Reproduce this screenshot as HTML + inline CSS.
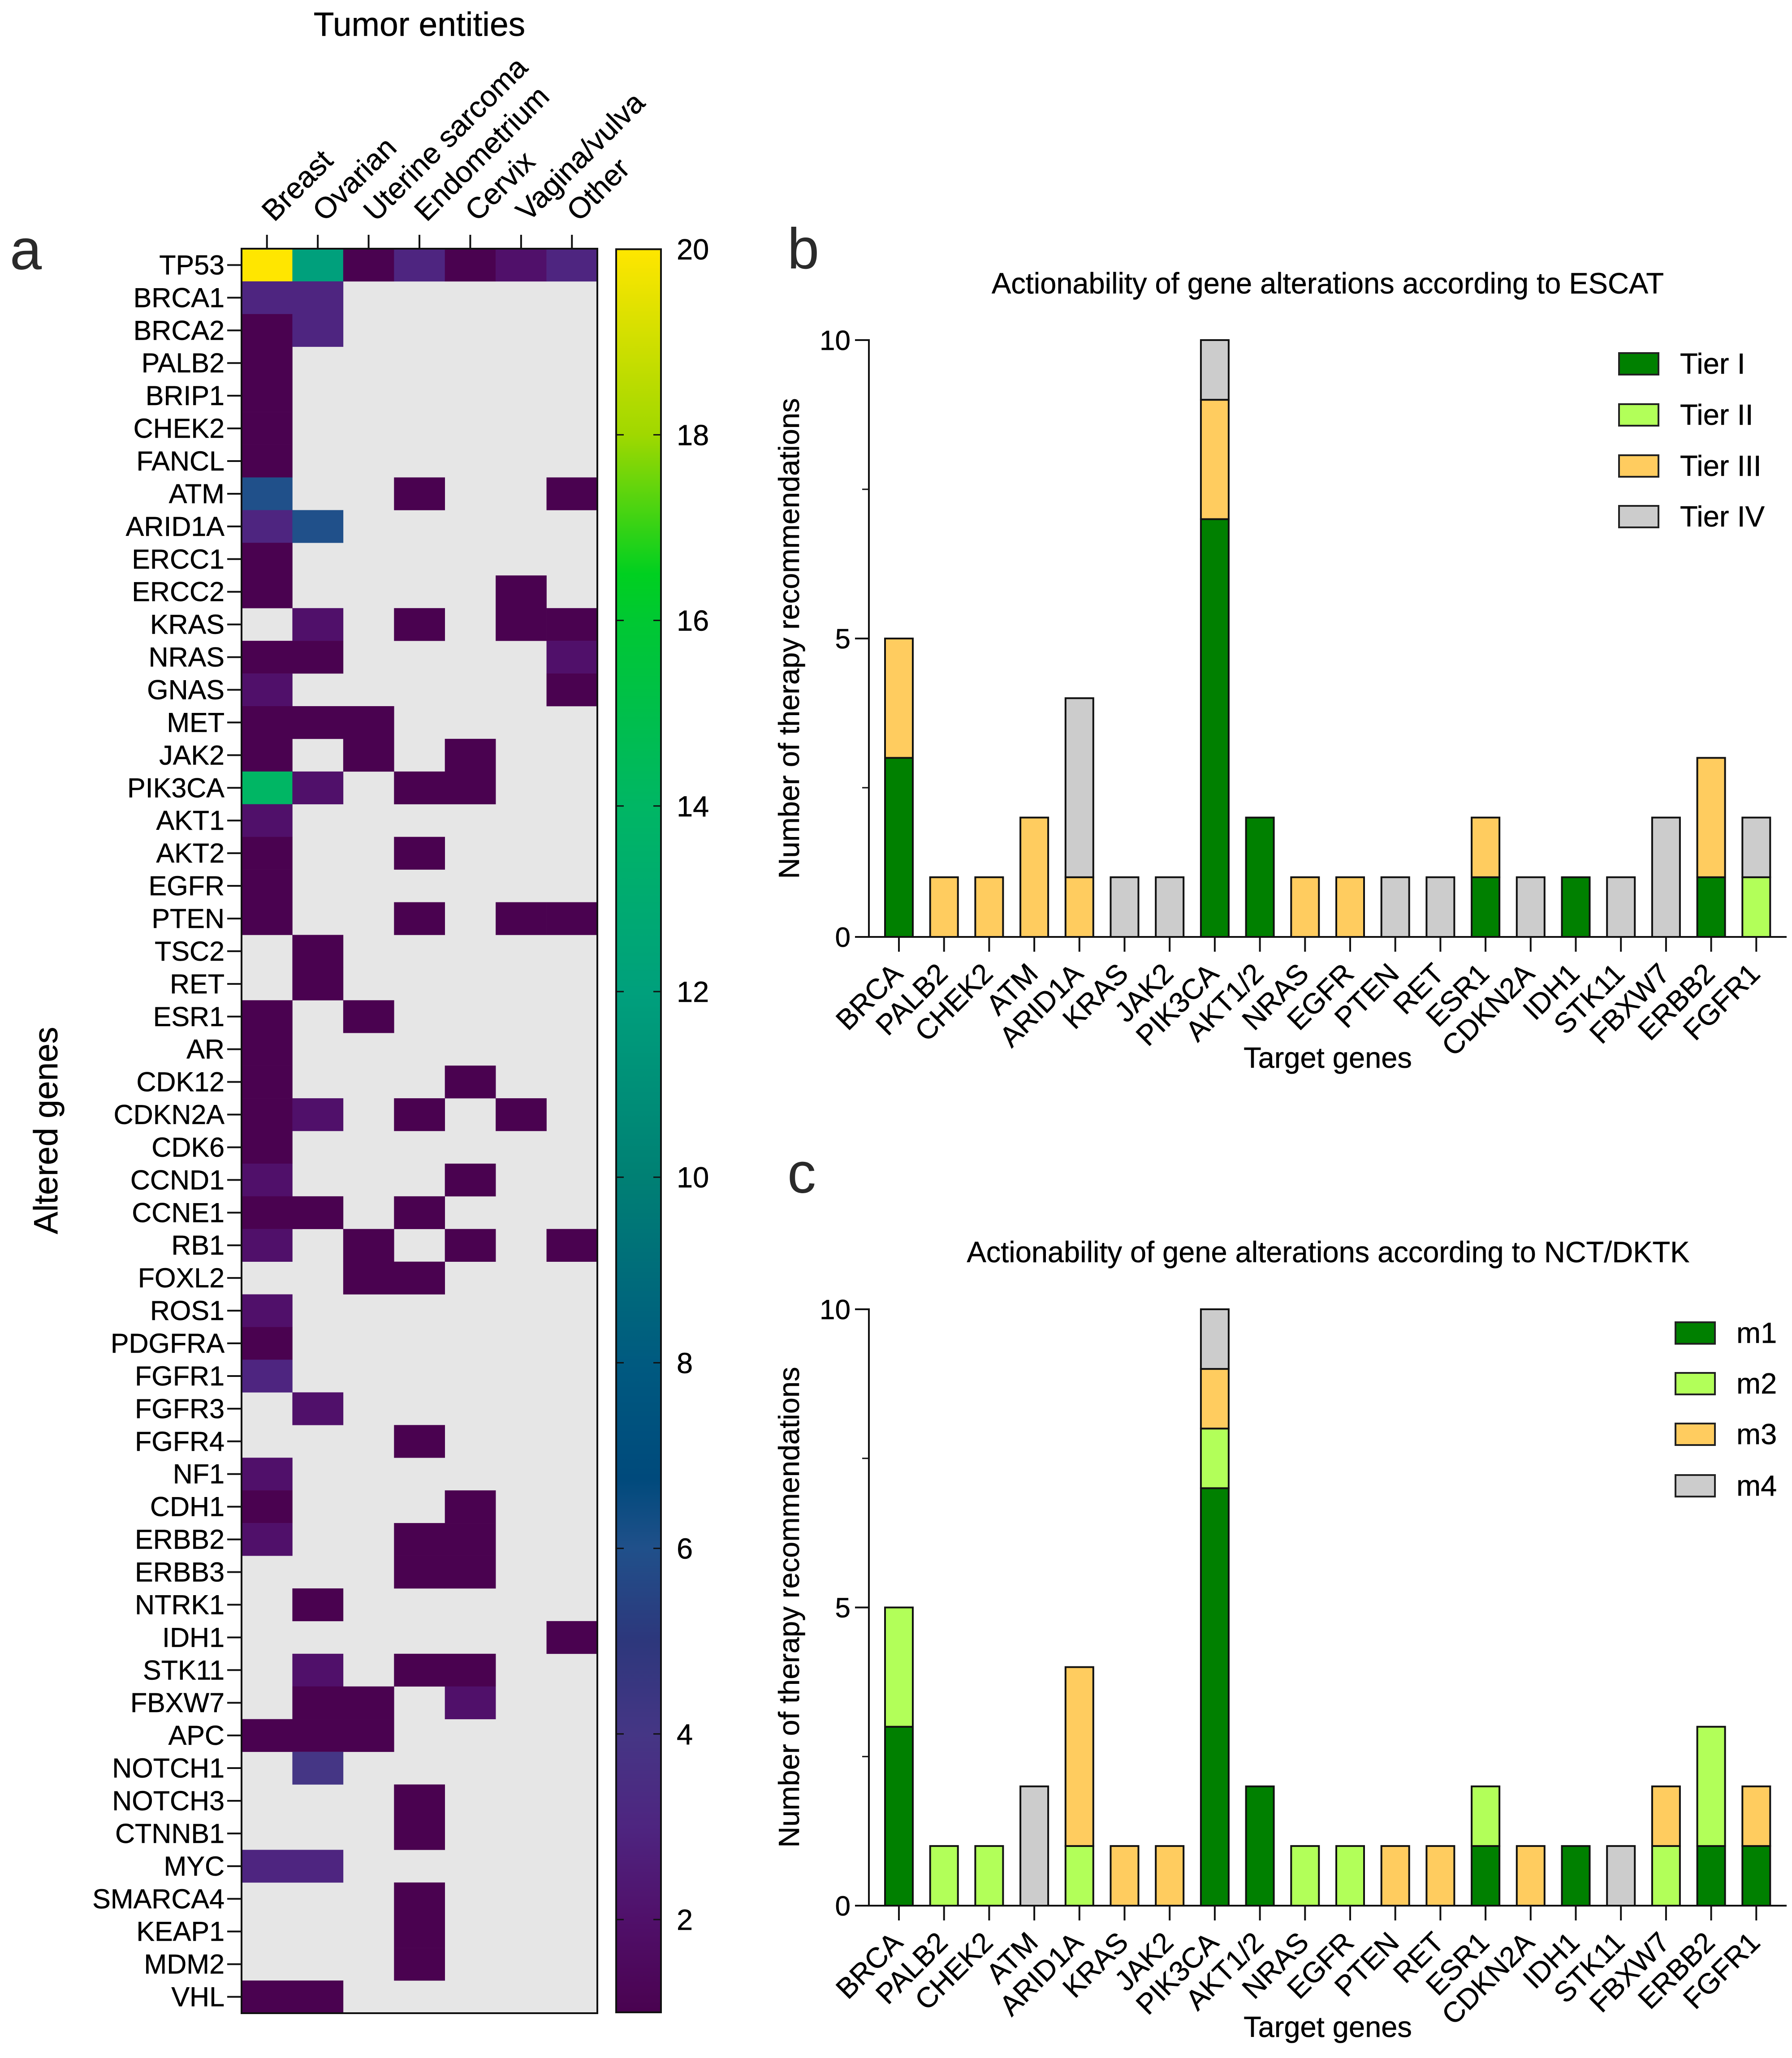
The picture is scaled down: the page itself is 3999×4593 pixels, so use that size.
<!DOCTYPE html>
<html lang="en">
<head>
<meta charset="utf-8">
<title>Actionability of gene alterations</title>
<style>
html,body{margin:0;padding:0;background:#fff;width:3999px;height:4593px;overflow:hidden}
svg{display:block}
text{font-family:"Liberation Sans",Arial,sans-serif;fill:#000;stroke:#000;stroke-width:0.5px}
</style>
</head>
<body>
<svg id="fig" xmlns="http://www.w3.org/2000/svg" width="3999" height="4593" viewBox="0 0 3999 4593">
  <defs><linearGradient id="cbarGrad" x1="0" y1="1" x2="0" y2="0"></linearGradient></defs>
  <rect width="3999" height="4593" fill="#fff"/>
  <text x="22" y="601" font-size="128" style="fill:#2a2a2a;stroke:none">a</text>
  <text x="1757" y="599" font-size="128" style="fill:#2a2a2a;stroke:none">b</text>
  <text x="1757" y="2662" font-size="128" style="fill:#2a2a2a;stroke:none">c</text>
  <text x="936" y="80" font-size="75" text-anchor="middle">Tumor entities</text>
  <text transform="translate(128,2523) rotate(-90)" font-size="75" text-anchor="middle">Altered genes</text>
  <text x="2963" y="655" font-size="66" text-anchor="middle" textLength="1500" lengthAdjust="spacingAndGlyphs">Actionability of gene alterations according to ESCAT</text>
  <text x="2964" y="2817" font-size="66" text-anchor="middle" textLength="1613" lengthAdjust="spacingAndGlyphs">Actionability of gene alterations according to NCT/DKTK</text>
  <text transform="translate(1783,1425) rotate(-90)" font-size="65" text-anchor="middle">Number of therapy recommendations</text>
  <text transform="translate(1783,3587) rotate(-90)" font-size="65" text-anchor="middle">Number of therapy recommendations</text>
  <text x="2963" y="2383" font-size="65" text-anchor="middle">Target genes</text>
  <text x="2963" y="4546" font-size="65" text-anchor="middle">Target genes</text>
  <g id="heat"></g>
  <g id="cbar"></g>
  <g id="chartB"></g>
  <g id="chartC"></g>
</svg>
<script>
// ---------- Heatmap data ----------
const heatColumns = ["Breast","Ovarian","Uterine sarcoma","Endometrium","Cervix","Vagina/vulva","Other"];
const heatGenes = ["TP53","BRCA1","BRCA2","PALB2","BRIP1","CHEK2","FANCL","ATM","ARID1A","ERCC1","ERCC2","KRAS","NRAS","GNAS","MET","JAK2","PIK3CA","AKT1","AKT2","EGFR","PTEN","TSC2","RET","ESR1","AR","CDK12","CDKN2A","CDK6","CCND1","CCNE1","RB1","FOXL2","ROS1","PDGFRA","FGFR1","FGFR3","FGFR4","NF1","CDH1","ERBB2","ERBB3","NTRK1","IDH1","STK11","FBXW7","APC","NOTCH1","NOTCH3","CTNNB1","MYC","SMARCA4","KEAP1","MDM2","VHL"];
// 0 = no alteration (grey cell)
const heatValues = [
[20,12,1,3,1,2,3],
[3,3,0,0,0,0,0],
[1,3,0,0,0,0,0],
[1,0,0,0,0,0,0],
[1,0,0,0,0,0,0],
[1,0,0,0,0,0,0],
[1,0,0,0,0,0,0],
[6,0,0,1,0,0,1],
[3,6,0,0,0,0,0],
[1,0,0,0,0,0,0],
[1,0,0,0,0,1,0],
[0,2,0,1,0,1,1],
[1,1,0,0,0,0,2],
[2,0,0,0,0,0,1],
[1,1,1,0,0,0,0],
[1,0,1,0,1,0,0],
[14,2,0,1,1,0,0],
[2,0,0,0,0,0,0],
[1,0,0,1,0,0,0],
[1,0,0,0,0,0,0],
[1,0,0,1,0,1,1],
[0,1,0,0,0,0,0],
[0,1,0,0,0,0,0],
[1,0,1,0,0,0,0],
[1,0,0,0,0,0,0],
[1,0,0,0,1,0,0],
[1,2,0,1,0,1,0],
[1,0,0,0,0,0,0],
[2,0,0,0,1,0,0],
[1,1,0,1,0,0,0],
[2,0,1,0,1,0,1],
[0,0,1,1,0,0,0],
[2,0,0,0,0,0,0],
[1,0,0,0,0,0,0],
[3,0,0,0,0,0,0],
[0,2,0,0,0,0,0],
[0,0,0,1,0,0,0],
[2,0,0,0,0,0,0],
[1,0,0,0,1,0,0],
[2,0,0,1,1,0,0],
[0,0,0,1,1,0,0],
[0,1,0,0,0,0,0],
[0,0,0,0,0,0,1],
[0,2,0,1,1,0,0],
[0,1,1,0,2,0,0],
[1,1,1,0,0,0,0],
[0,4,0,0,0,0,0],
[0,0,0,1,0,0,0],
[0,0,0,1,0,0,0],
[3,3,0,0,0,0,0],
[0,0,0,1,0,0,0],
[0,0,0,1,0,0,0],
[0,0,0,1,0,0,0],
[1,1,0,0,0,0,0]
];
const colorbarTicks = [2,4,6,8,10,12,14,16,18,20];
const colorStopValues = [1,2,3,4,5,6,6.75,8,10,12,14,16,16.5,18,20];
const colorStopColors = ["#4a0250","#50106a","#4e2580","#453685","#2d377c","#20508a","#004a7c","#005a80","#008074","#00a07c","#00b664","#00c832","#00d020","#a0d800","#ffe600"];

// ---------- Bar chart data ----------
const targetGenes = ["BRCA","PALB2","CHEK2","ATM","ARID1A","KRAS","JAK2","PIK3CA","AKT1/2","NRAS","EGFR","PTEN","RET","ESR1","CDKN2A","IDH1","STK11","FBXW7","ERBB2","FGFR1"];
const yTickLabels = [0,5,10];
const yMinorTicks = [2.5,7.5];
const tierNames = ["Tier I","Tier II","Tier III","Tier IV"];
const tier1 = [3,0,0,0,0,0,0,7,2,0,0,0,0,1,0,1,0,0,1,0];
const tier2 = [0,0,0,0,0,0,0,0,0,0,0,0,0,0,0,0,0,0,0,1];
const tier3 = [2,1,1,2,1,0,0,2,0,1,1,0,0,1,0,0,0,0,2,0];
const tier4 = [0,0,0,0,3,1,1,1,0,0,0,1,1,0,1,0,1,2,0,1];
const mNames = ["m1","m2","m3","m4"];
const m1 = [3,0,0,0,0,0,0,7,2,0,0,0,0,1,0,1,0,0,1,1];
const m2 = [2,1,1,0,1,0,0,1,0,1,1,0,0,1,0,0,0,1,2,0];
const m3 = [0,0,0,0,3,1,1,1,0,0,0,1,1,0,1,0,0,1,0,1];
const m4 = [0,0,0,2,0,0,0,1,0,0,0,0,0,0,0,0,1,0,0,0];
const seriesColors = ["#008000","#b2ff59","#ffcc5f","#cccccc"];

const NS = "http://www.w3.org/2000/svg";
function mk(parent, tag, attrs, txt){
  const el = document.createElementNS(NS, tag);
  for (const k in attrs) el.setAttribute(k, attrs[k]);
  if (txt !== undefined) el.textContent = txt;
  parent.appendChild(el);
  return el;
}
function hex2rgb(h){ return [1,3,5].map(i => parseInt(h.substr(i,2),16)); }
function colorFor(v){
  const vs = colorStopValues;
  if (v <= vs[0]) return colorStopColors[0];
  for (let i = 1; i < vs.length; i++){
    if (v <= vs[i]){
      const t = (v - vs[i-1])/(vs[i]-vs[i-1]);
      const a = hex2rgb(colorStopColors[i-1]), b = hex2rgb(colorStopColors[i]);
      return "rgb(" + a.map((c,j) => Math.round(c+(b[j]-c)*t)).join(",") + ")";
    }
  }
  return colorStopColors[vs.length-1];
}

// ---------- Heatmap ----------
(function drawHeat(){
  const g = document.getElementById("heat");
  const left = 539, right = 1333, top = 555, bottom = 4493;
  const xPos = c => left + c*(right-left)/heatColumns.length;
  const yPos = r => top + r*(bottom-top)/heatGenes.length;
  const bg = mk(g,"rect",{x:left,y:top,width:right-left,height:bottom-top,fill:"#e6e6e6"});
  
  
  heatValues.forEach((row,r) => row.forEach((v,c) => {
    if (!v) return;
    const cell = mk(g,"rect",{x:xPos(c),y:yPos(r),width:xPos(c+1)-xPos(c)+0.3,height:yPos(r+1)-yPos(r)+0.3,fill:colorFor(v)});
    
    
  }));
  const frame = mk(g,"rect",{x:left,y:top,width:right-left,height:bottom-top,fill:"none",stroke:"#111","stroke-width":4});
  
  
  heatGenes.forEach((name,r) => {
    const yc = yPos(r+0.5);
    const t = mk(g,"line",{x1:507,x2:left,y1:yc,y2:yc,stroke:"#111","stroke-width":4});
    
    
    const lb = mk(g,"text",{x:501,y:yc+21,"font-size":61,"text-anchor":"end"},name);
    
    
  });
  heatColumns.forEach((name,c) => {
    const xc = xPos(c+0.5);
    const t = mk(g,"line",{x1:xc,x2:xc,y1:524,y2:top,stroke:"#111","stroke-width":4});
    
    
    const lb = mk(g,"text",{transform:"translate("+(xc+16)+",497) rotate(-45)","font-size":66},name);
    
    
  });
})();

// ---------- Colorbar ----------
(function drawBar(){
  const g = document.getElementById("cbar");
  const left = 1375, right = 1475;
  const yPos = v => 4284 - (v-2)*207.1;
  const vMin = colorStopValues[0], vMax = colorStopValues[colorStopValues.length-1];
  const grad = document.getElementById("cbarGrad");
  colorStopValues.forEach((v,i) => mk(grad,"stop",{offset:(v-vMin)/(vMax-vMin),"stop-color":colorStopColors[i]}));
  const r = mk(g,"rect",{x:left,y:yPos(vMax),width:right-left,height:yPos(vMin)-yPos(vMax),fill:"url(#cbarGrad)",stroke:"#111","stroke-width":4});
  
  
  colorbarTicks.forEach(v => {
    const y = yPos(v);
    if (v < vMax){
      const a = mk(g,"line",{x1:left,x2:left+17,y1:y,y2:y,stroke:"#111","stroke-width":3});
      
      
      const b = mk(g,"line",{x1:right-17,x2:right,y1:y,y2:y,stroke:"#111","stroke-width":3});
      
      
    }
    const lb = mk(g,"text",{x:1510,y:y+23,"font-size":65},v);
    
    
  });
})();

// ---------- Stacked bars ----------
function drawChart(id, y0, y10, series, names, legendX, legendYs){
  const g = document.getElementById(id);
  const xPos = i => 2006 + i*100.7;
  const yPos = v => y0 - v*(y0-y10)/10;
  const barW = 62;
  targetGenes.forEach((name,i) => {
    let acc = 0;
    series.forEach((vals,s) => {
      const v = vals[i];
      if (!v) return;
      const r = mk(g,"rect",{x:xPos(i)-barW/2,y:yPos(acc+v),width:barW,height:yPos(acc)-yPos(acc+v),fill:seriesColors[s],stroke:"#111","stroke-width":4});
      
      
      acc += v;
    });
    const t = mk(g,"line",{x1:xPos(i),x2:xPos(i),y1:y0,y2:y0+33,stroke:"#111","stroke-width":4});
    
    
    const lb = mk(g,"text",{transform:"translate("+(xPos(i)+12)+","+(y0+86)+") rotate(-45)","font-size":64,"text-anchor":"end"},name);
    
    
  });
  const yAxis = mk(g,"line",{x1:1939,x2:1939,y1:y10-2,y2:y0+2,stroke:"#111","stroke-width":4});
  
  
  const xAxis = mk(g,"line",{x1:1908,x2:3987,y1:y0,y2:y0,stroke:"#111","stroke-width":4});
  
  
  yTickLabels.forEach(v => {
    const t = mk(g,"line",{x1:1908,x2:1939,y1:yPos(v),y2:yPos(v),stroke:"#111","stroke-width":4});
    
    
    const lb = mk(g,"text",{x:1898,y:yPos(v)+22,"font-size":62,"text-anchor":"end"},v);
    
    
  });
  yMinorTicks.forEach(v => {
    const t = mk(g,"line",{x1:1924,x2:1939,y1:yPos(v),y2:yPos(v),stroke:"#111","stroke-width":3});
    
    
  });
  names.forEach((n,i) => {
    const sw = mk(g,"rect",{x:legendX,y:legendYs[i]-24,width:88,height:48,fill:seriesColors[i],stroke:"#222","stroke-width":4});
    
    
    const lb = mk(g,"text",{x:legendX+136,y:legendYs[i]+22,"font-size":65},n);
    
    
  });
}
drawChart("chartB", 2091, 759, [tier1,tier2,tier3,tier4], tierNames, 3613, [812,926,1040,1153]);
drawChart("chartC", 4253, 2922, [m1,m2,m3,m4], mNames, 3739, [2975,3088,3201,3316]);
</script>
</body>
</html>
